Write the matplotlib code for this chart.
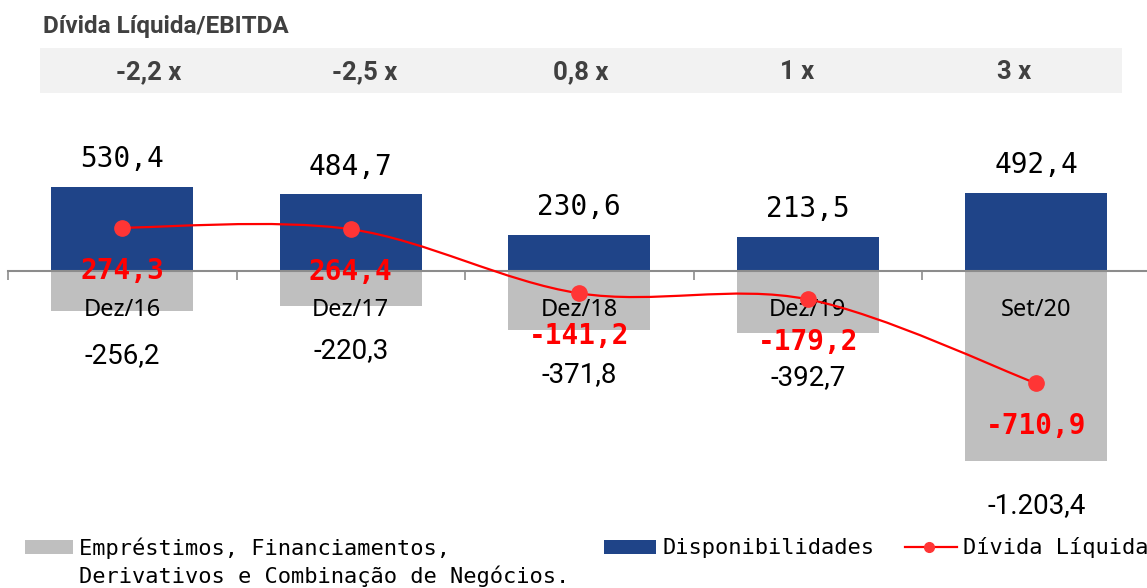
import matplotlib
matplotlib.use('Agg')
import matplotlib.pyplot as plt
from matplotlib.path import Path
from matplotlib.patches import PathPatch, Rectangle
from matplotlib.lines import Line2D

categories = ['Dez/16', 'Dez/17', 'Dez/18', 'Dez/19', 'Set/20']
disponibilidades = [530.4, 484.7, 230.6, 213.5, 492.4]
emprestimos = [-256.2, -220.3, -371.8, -392.7, -1203.4]
divida_liquida = [274.3, 264.4, -141.2, -179.2, -710.9]
ratios = ['-2,2 x', '-2,5 x', '0,8 x', '1 x', '3 x']

BLUE = '#1F4488'
GRAY = '#BFBFBF'
RED = '#FF0000'
DOT = '#FF3535'
DARK = '#404040'
MONO = 'DejaVu Sans Mono'


def fmt(v):
    s = f"{v:,.1f}"
    return s.replace(',', 'X').replace('.', ',').replace('X', '.')


W, H = 1147, 588
fig = plt.figure(figsize=(W / 100, H / 100), dpi=100)

# axes: x from px 8 with 228.5 px per category; zero line at px 271 from top
ax_left, ax_w = 8, 5 * 228.5
ax_top, ax_bot = 110, 520
scale = 0.158
ax = fig.add_axes([ax_left / W, 1 - ax_bot / H, ax_w / W, (ax_bot - ax_top) / H])
ax.set_xlim(-0.5, 4.5)
ax.set_ylim(-(ax_bot - 271) / scale, (271 - ax_top) / scale)

x = list(range(len(categories)))
ax.bar(x, emprestimos, width=0.62, color=GRAY, zorder=1)
ax.bar(x, disponibilidades, width=0.62, color=BLUE, zorder=2)

for s in ['top', 'right', 'left']:
    ax.spines[s].set_visible(False)
ax.spines['bottom'].set_position(('data', 0))
ax.spines['bottom'].set_color('#8C8C8C')
ax.spines['bottom'].set_linewidth(1.5)
ax.spines['bottom'].set_zorder(3)
ax.set_yticks([])
ax.set_xticks(x)
ax.set_xticklabels(categories, fontsize=17, family='Noto Sans', color='black')
ax.tick_params(axis='x', which='major', length=0, pad=19.5)
ax.set_xticks([i - 0.5 for i in range(len(categories) + 1)], minor=True)
ax.tick_params(axis='x', which='minor', length=6.5, width=1.2, color='#8C8C8C', direction='out')

# smooth line (Catmull-Rom -> cubic Bezier)
pts = list(zip(x, divida_liquida))
verts = [pts[0]]
codes = [Path.MOVETO]
n = len(pts)
for i in range(n - 1):
    p0 = pts[max(i - 1, 0)]
    p1 = pts[i]
    p2 = pts[i + 1]
    p3 = pts[min(i + 2, n - 1)]
    b1 = (p1[0] + (p2[0] - p0[0]) / 6, p1[1] + (p2[1] - p0[1]) / 6)
    b2 = (p2[0] - (p3[0] - p1[0]) / 6, p2[1] - (p3[1] - p1[1]) / 6)
    verts += [b1, b2, p2]
    codes += [Path.CURVE4] * 3
ax.add_patch(PathPatch(Path(verts, codes), facecolor='none', edgecolor=RED, lw=1.6, zorder=4))
ax.plot(x, divida_liquida, linestyle='none', marker='o', ms=11, color=DOT, zorder=5)

for i in x:
    ax.annotate(fmt(disponibilidades[i]), (i, disponibilidades[i]), xytext=(0, 20),
                textcoords='offset points', ha='center', va='center',
                fontsize=20, family=MONO, color='black', zorder=6)
    ax.annotate(fmt(emprestimos[i]), (i, emprestimos[i]), xytext=(0, -32),
                textcoords='offset points', ha='center', va='center',
                fontsize=20, family='Roboto', color='black', zorder=6)
    ax.annotate(fmt(divida_liquida[i]), (i, divida_liquida[i]), xytext=(0, -31),
                textcoords='offset points', ha='center', va='center',
                fontsize=20, family=MONO, weight='bold', color=RED, zorder=7)

# title and ratio band
fig.text(43 / W, 1 - 27 / H, 'Dívida Líquida/EBITDA', ha='left', va='center',
         fontsize=17.5, weight='bold', family='Roboto', color=DARK)
band_l, band_r, band_t, band_b = 40, 1122, 48, 93
fig.add_artist(Rectangle((band_l / W, 1 - band_b / H), (band_r - band_l) / W,
                         (band_b - band_t) / H, transform=fig.transFigure,
                         facecolor='#F2F2F2', edgecolor='none', zorder=0))
seg = (band_r - band_l) / len(ratios)
for i, r in enumerate(ratios):
    fig.text((band_l + seg * (i + 0.5)) / W, 1 - 72 / H, r, ha='center', va='center',
             fontsize=18.5, weight='bold', family='Roboto', color=DARK)

# legend (drawn manually)
LFS = 15.8
fig.add_artist(Rectangle((25 / W, 1 - 554 / H), 48 / W, 14 / H, transform=fig.transFigure,
                         facecolor=GRAY, edgecolor='none'))
fig.text(79 / W, 1 - 548 / H, 'Empréstimos, Financiamentos,', ha='left', va='center',
         fontsize=LFS, family=MONO, color='black')
fig.text(79 / W, 1 - 576 / H, 'Derivativos e Combinação de Negócios.', ha='left', va='center',
         fontsize=LFS, family=MONO, color='black')
fig.add_artist(Rectangle((604 / W, 1 - 554 / H), 52 / W, 14 / H, transform=fig.transFigure,
                         facecolor=BLUE, edgecolor='none'))
fig.text(663 / W, 1 - 548 / H, 'Disponibilidades', ha='left', va='center',
         fontsize=LFS, family=MONO, color='black')
fig.add_artist(Line2D([905 / W, 957 / W], [1 - 547 / H, 1 - 547 / H], transform=fig.transFigure,
                      color=RED, lw=1.6))
fig.add_artist(Line2D([929 / W], [1 - 547 / H], transform=fig.transFigure, marker='o',
                      ms=7, color=DOT, linestyle='none'))
fig.text(963 / W, 1 - 548 / H, 'Dívida Líquida', ha='left', va='center',
         fontsize=LFS, family=MONO, color='black')

fig.savefig('out.png', dpi=100)
